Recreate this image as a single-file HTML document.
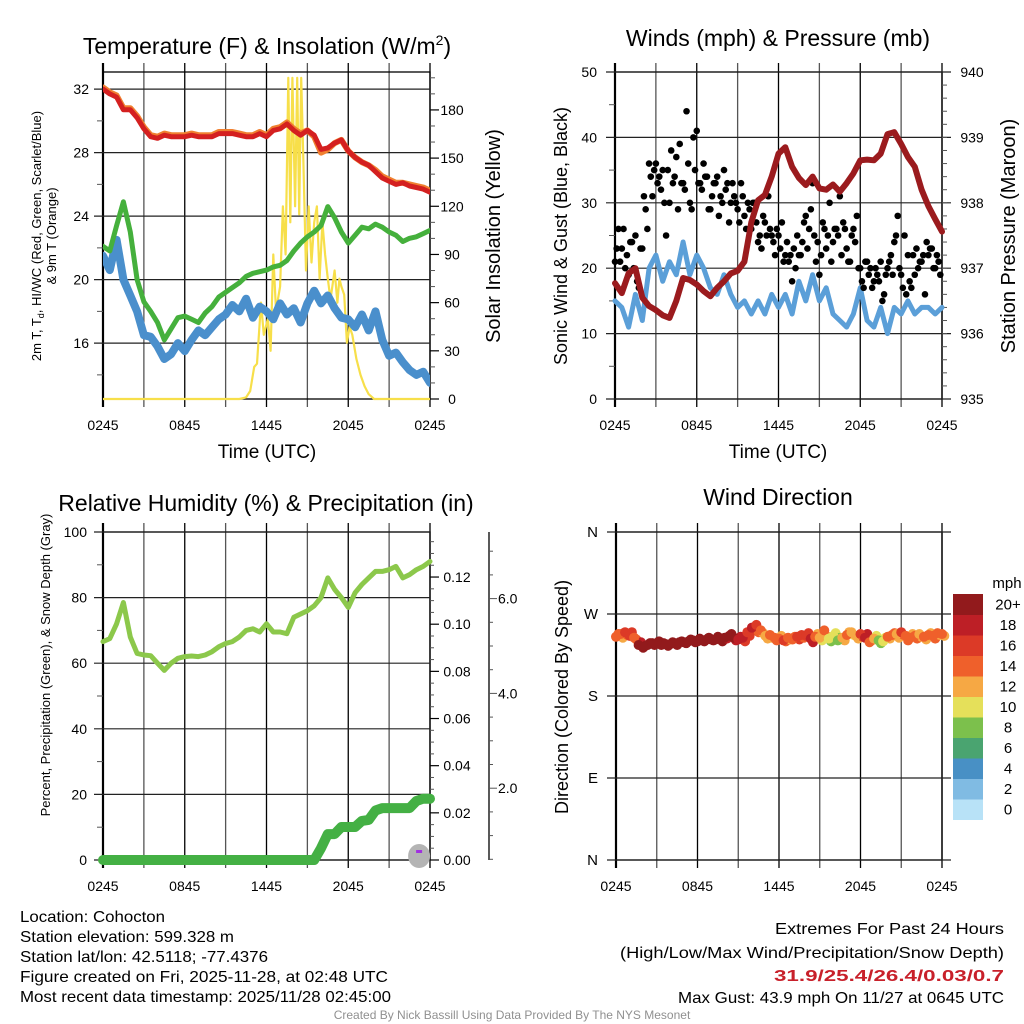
<!DOCTYPE html>
<html><head><meta charset="utf-8"><title>Cohocton Meteogram</title>
<style>
html,body{margin:0;padding:0;background:#fff;}
svg{display:block;font-family:"Liberation Sans",Arial,sans-serif;}
</style></head>
<body>
<svg id="chart" width="1024" height="1024" viewBox="0 0 1024 1024" xmlns="http://www.w3.org/2000/svg">
<rect x="0" y="0" width="1024" height="1024" fill="#fff"/>
<text x="267" y="54" font-size="23" text-anchor="middle">Temperature (F) &amp; Insolation (W/m<tspan font-size="14" dy="-9">2</tspan><tspan dy="9">)</tspan></text>
<text x="778" y="46" font-size="23" text-anchor="middle">Winds (mph) &amp; Pressure (mb)</text>
<text x="266" y="511" font-size="23" text-anchor="middle">Relative Humidity (%) &amp; Precipitation (in)</text>
<text x="778" y="505" font-size="23" text-anchor="middle">Wind Direction</text>
<text transform="translate(41,236) rotate(-90)" font-size="13" text-anchor="middle">2m T, T<tspan font-size="9" dy="3">d</tspan><tspan dy="-3">, HI/WC (Red, Green, Scarlet/Blue)</tspan></text>
<text transform="translate(56,236) rotate(-90)" font-size="13" text-anchor="middle">&amp; 9m T (Orange)</text>
<text transform="translate(500,236) rotate(-90)" font-size="20" text-anchor="middle">Solar Insolation (Yellow)</text>
<text x="267" y="458" font-size="19" text-anchor="middle">Time (UTC)</text>
<text transform="translate(567,236) rotate(-90)" font-size="18" text-anchor="middle">Sonic Wind &amp; Gust (Blue, Black)</text>
<text transform="translate(1015,236) rotate(-90)" font-size="20" text-anchor="middle">Station Pressure (Maroon)</text>
<text x="778" y="458" font-size="19" text-anchor="middle">Time (UTC)</text>
<text transform="translate(50,665) rotate(-90)" font-size="13" text-anchor="middle">Percent, Precipitation (Green), &amp; Snow Depth (Gray)</text>
<text transform="translate(568,697) rotate(-90)" font-size="18" text-anchor="middle">Direction (Colored By Speed)</text>
<g font-size="16">
<text x="20" y="922" textLength="145" lengthAdjust="spacingAndGlyphs">Location: Cohocton</text>
<text x="20" y="942" textLength="214" lengthAdjust="spacingAndGlyphs">Station elevation: 599.328 m</text>
<text x="20" y="962" textLength="248" lengthAdjust="spacingAndGlyphs">Station lat/lon: 42.5118; -77.4376</text>
<text x="20" y="982" textLength="368" lengthAdjust="spacingAndGlyphs">Figure created on Fri, 2025-11-28, at 02:48 UTC</text>
<text x="20" y="1002" textLength="371" lengthAdjust="spacingAndGlyphs">Most recent data timestamp: 2025/11/28 02:45:00</text>
</g>
<g font-size="16">
<text x="775" y="934" textLength="229" lengthAdjust="spacingAndGlyphs">Extremes For Past 24 Hours</text>
<text x="620" y="958" textLength="384" lengthAdjust="spacingAndGlyphs">(High/Low/Max Wind/Precipitation/Snow Depth)</text>
<text x="774" y="981" textLength="230" lengthAdjust="spacingAndGlyphs" fill="#c8202a" font-weight="bold">31.9/25.4/26.4/0.03/0.7</text>
<text x="678" y="1003" textLength="326" lengthAdjust="spacingAndGlyphs">Max Gust: 43.9 mph On 11/27 at 0645 UTC</text>
</g>
<text x="512" y="1019" font-size="12" fill="#909090" text-anchor="middle">Created By Nick Bassill Using Data Provided By The NYS Mesonet</text>
<g id="layer"></g>
</svg>
<script>
const hours = [0,0.5,1,1.5,2,2.5,3,3.5,4,4.5,5,5.5,6,6.5,7,7.5,8,8.5,9,9.5,10,10.5,11,11.5,12,12.5,13,13.5,14,14.5,15,15.5,16,16.5,17,17.5,18,18.5,19,19.5,20,20.5,21,21.5,22,22.5,23,23.5,24];
const timeTickHours = [0,6,12,18,24];
const timeTickLabels = ["0245","0845","1445","2045","0245"];
const tempRed = [32.0,31.7,31.5,30.7,30.7,30.2,29.5,29.0,28.9,29.1,29.0,29.0,29.0,29.1,29.0,29.0,29.0,29.2,29.2,29.2,29.1,29.0,29.0,29.2,29.0,29.4,29.5,29.8,29.4,29.1,29.4,29.1,28.2,28.3,28.6,28.8,28.1,27.7,27.4,27.2,26.8,26.4,26.2,26.0,26.1,25.9,25.8,25.7,25.5];
const temp9mOrange = [32.1,31.8,31.6,30.8,30.8,30.3,29.6,29.1,29.0,29.2,29.1,29.1,29.1,29.2,29.1,29.1,29.1,29.3,29.3,29.3,29.2,29.1,29.1,29.3,29.1,29.5,29.6,29.9,29.5,29.2,29.4,29.0,28.0,28.2,28.6,28.8,28.1,27.7,27.4,27.2,26.9,26.5,26.3,26.1,26.1,26.0,25.9,25.8,25.6];
const heatIndexGreen = [22.1,21.8,23.4,24.9,23.0,20.0,18.6,18.0,17.3,16.2,16.9,17.6,17.7,17.5,17.3,17.9,18.3,18.9,19.2,19.5,19.8,20.2,20.4,20.5,20.6,20.8,20.9,21.2,21.8,22.3,22.7,23.0,23.4,24.6,23.9,23.0,22.3,22.8,23.3,23.2,23.5,23.3,23.0,22.8,22.4,22.6,22.7,22.9,23.1];
const dewpointBlue = [21.5,20.6,22.5,20.0,19.0,18.0,16.5,16.4,15.8,15.0,15.3,16.0,15.5,16.2,16.8,16.5,17.0,17.5,17.8,18.4,18.0,18.8,17.6,18.3,18.0,17.5,18.5,17.8,18.2,17.3,18.5,19.3,18.5,19.0,18.2,17.6,17.5,17.0,17.8,16.8,18.0,16.2,15.2,15.4,14.8,14.3,14.0,14.2,13.5];
const tempTicks = [16,20,24,28,32];
const solarTicks = [0,30,60,90,120,150,180];
const solarHours = [0,10,10.5,10.8,11.1,11.3,11.6,11.8,12.1,12.3,12.5,12.7,13.0,13.2,13.4,13.6,13.75,13.9,14.1,14.25,14.4,14.55,14.7,14.9,15.1,15.3,15.5,15.7,15.9,16.1,16.3,16.5,16.7,17.0,17.2,17.35,17.5,17.7,17.9,18.1,18.3,18.6,18.9,19.2,19.5,19.9,24];
const solarValues = [0,0,1,5,20,22,60,40,50,30,90,55,70,120,90,200,110,200,120,200,115,200,150,80,120,85,110,120,75,110,90,75,62,80,60,75,70,65,35,45,40,25,15,8,3,0,0];
const windSpeed = [15,14,11,16,12,20,22,18,21,19,24,19,22,20,17,16,19,16,14,15,13,15,13,16,14,16,13,18,15,19,15,17,13,12,11,13,17,12,11,14,10,14,13,15,13,14,14,13,14];
const pressure = [936.77,936.62,936.92,937.0,936.55,936.42,936.36,936.28,936.24,936.5,936.85,936.82,936.75,936.65,936.57,936.7,936.8,936.92,936.96,937.1,937.7,938.04,938.12,938.4,938.75,938.85,938.55,938.38,938.27,938.4,938.22,938.2,938.28,938.17,938.3,938.45,938.65,938.66,938.65,938.75,939.05,939.08,938.9,938.7,938.55,938.2,937.95,937.75,937.56];
const gusts = [21,26,23,20,19,24,25,17,23,29,36,31,36,34,35,25,30,33,37,39,33,44,30,40,41,33,36,34,29,33,34,31,35,33,30,31,29,33,28,30,26,30,24,23,27,31,25,22,25,27,22,21,18,20,22,24,28,26,33,21,19,27,23,30,24,26,31,27,23,21,26,28,20,17,21,20,18,19,21,16,20,22,24,28,19,25,22,17,19,20,21,16,22,23,20,21];
const gusts2 = [23,21,26,22,24,20,18,23,31,26,34,35,33,32,30,35,38,34,29,33,32,36,29,35,33,32,34,29,31,33,28,30,32,27,33,30,27,31,26,29,30,27,25,28,25,26,24,26,23,21,24,22,23,25,22,27,23,29,25,24,22,26,25,21,26,25,22,26,21,25,24,20,18,21,19,17,20,18,15,19,21,19,25,20,17,16,18,22,23,21,22,24,23,20,22,19];
const windTicks = [0,10,20,30,40,50];
const pressureTicks = [935,936,937,938,939,940];
const relHumidity = [66.6,67.5,72,78.5,68,63,62.5,62.3,60,57.8,60,61.5,62,62.2,62,62.5,63.5,65,66,66.6,68,70,70.5,69.5,72,69.5,69.5,69,74,75,76,77.5,80,86,82.5,80,77,81.5,84,86,88,88,88.5,89.5,86,87,88.5,89.5,91];
const precip = [0,0,0,0,0,0,0,0,0,0,0,0,0,0,0,0,0,0,0,0,0,0,0,0,0,0,0,0,0,0,0,0,0.005,0.011,0.011,0.014,0.014,0.014,0.0166,0.017,0.021,0.022,0.022,0.022,0.022,0.022,0.025,0.026,0.026];
const rhTicks = [0,20,40,60,80,100];
const precipTicks = [0,0.02,0.04,0.06,0.08,0.10,0.12];
const precipTickLabels = ["0.00","0.02","0.04","0.06","0.08","0.10","0.12"];
const snowTicks = [2,4,6];
const snowTickLabels = ["2.0","4.0","6.0"];
const windDir = [245,248,250,246,244,236,233,236,238,238,236,237,237,238,239,239,240,241,240,241,242,242,242,243,244,246,244,242,244,250,255,258,252,246,247,244,243,241,244,242,245,247,246,243,245,244,252,243,246,241,244,247,250,246,248,244,239,243,241,240,245,247,248,250,246,244,246,248,245,247,246,249,248];
const windDir2 = [248,244,247,250,242,239,235,238,236,240,238,235,239,236,240,238,242,239,243,240,244,241,245,240,243,248,241,245,240,246,252,250,249,243,244,241,246,240,242,245,242,244,249,239,248,241,246,240,249,244,241,250,247,243,245,248,241,246,238,244,243,249,244,247,241,248,243,245,242,249,243,247,246];
const windDirSpeed = [15,14,16,17,15,20,21,22,21,21,22,21,21,22,21,21,21,22,21,21,22,21,21,21,20,21,20,19,18,17,18,16,14,13,14,15,14,16,14,15,17,16,17,19,14,12,14,10,11,9,13,14,12,13,17,19,14,12,9,11,14,15,13,16,15,14,15,13,14,14,15,14,14];
const dirTicks = [0,90,180,270,360];
const dirTickLabels = ["N","E","S","W","N"];
const legendLevels = ["0","2","4","6","8","10","12","14","16","18","20+"];
const legendColors = ["#b8e2f7","#80bbe3","#4890c5","#4aa470","#7cc04c","#e5e05a","#f6a844","#ef602b","#dc3a27","#bd1f26","#921a1c"];

const NS = "http://www.w3.org/2000/svg";
const layer = document.getElementById("layer");
function mk(tag, attrs, parent){
  const el = document.createElementNS(NS, tag);
  for (const k in attrs) el.setAttribute(k, attrs[k]);
  (parent||layer).appendChild(el);
  return el;
}
function txt(x,y,s,size,anchor,parent){
  const el = mk("text",{x:x,y:y,"font-size":size,"text-anchor":anchor},parent);
  el.textContent = s;
  return el;
}
function pathFrom(xs, ys){
  let d = "";
  for (let i=0;i<xs.length;i++) d += (i?"L":"M")+xs[i].toFixed(1)+","+ys[i].toFixed(1);
  return d;
}
function speedColor(s){
  let idx = Math.floor(s/2);
  if (idx>10) idx=10;
  if (idx<0) idx=0;
  return legendColors[idx];
}
function frame(x0,x1,y0,y1,name){
  const g = mk("g",{});
  
  
  for (let h=0; h<=24; h+=3){
    const x = x0 + h*(x1-x0)/24;
    const ln = mk("line",{x1:x,x2:x,y1:y0-9,y2:y1+8,stroke:(h%6===0)?"#000":"#555","stroke-width":1.3},g);
    
    
  }
  const fr = mk("rect",{x:x0,y:y0,width:x1-x0,height:y1-y0,fill:"none",stroke:"#000","stroke-width":1.3},g);
  
  
  const sp = mk("line",{x1:x0,x2:x0,y1:y0-9,y2:y1+8,stroke:"#000","stroke-width":2.2},g);
  
  
  for (let i=0;i<timeTickHours.length;i++){
    const x = x0 + timeTickHours[i]*(x1-x0)/24;
    const t = txt(x, y1+31, timeTickLabels[i], 14, "middle", g);
    
    
  }
  return g;
}
function hGrid(x0,x1,y,g,extRight){
  const ln = mk("line",{x1:x0-9,x2:x1+(extRight||0),y1:y,y2:y,stroke:"#222","stroke-width":1.2},g);
  
  
}
function leftLabel(x,y,s,g,size){
  const t = txt(x,y+5,s,size||14,"end",g);
  
  
}
function minorTick(xa,xb,y,g){
  const ln = mk("line",{x1:xa,x2:xb,y1:y,y2:y,stroke:"#555","stroke-width":1},g);
  
  
}
function series(d, color, width, name, g){
  const p = mk("path",{d:d,fill:"none",stroke:color,"stroke-width":width,"stroke-linejoin":"round","stroke-linecap":"round"},g);
  
  
  return p;
}

(function(){
  const x0=103,x1=430,y0=72,y1=399;
  const X = h => x0 + h*(x1-x0)/24;
  const YL = v => y1 - (v-12.48)*15.875;
  const YR = w => y1 - w*1.606;
  const g = frame(x0,x1,y0,y1,'temperature-panel');
  tempTicks.forEach(v=>{ hGrid(x0,x1,YL(v),g); leftLabel(89,YL(v),String(v),g); });
  for (let v=14; v<=32; v+=2) if (v%4) minorTick(x0-6,x0,YL(v),g);
  solarTicks.forEach(w=>{
    const ln = mk("line",{x1:x1,x2:x1+9,y1:YR(w),y2:YR(w),stroke:"#000","stroke-width":1.2},g);
    
    
    const t = txt(452,YR(w)+5,String(w),14,"middle",g);
    
    
  });
  for (let w=10; w<=200; w+=10) if (w%30) minorTick(x1,x1+5,YR(w),g);
  const clip = mk("clipPath",{id:"c1"});
  mk("rect",{x:x0,y:y0,width:x1-x0,height:y1-y0+2},clip);
  const s = mk("g",{"clip-path":"url(#c1)"});
  
  
  series(pathFrom(solarHours.map(X), solarValues.map(YR)), "#f7df4a", 2.2, "solar-insolation-line", s);
  series(pathFrom(hours.map(X), dewpointBlue.map(YL)), "#4a8fcc", 8, "dewpoint-line", s);
  series(pathFrom(hours.map(X), heatIndexGreen.map(YL)), "#45b03c", 5, "wind-chill-line", s);
  series(pathFrom(hours.map(X), temp9mOrange.map(YL)), "#f08030", 6, "temp-9m-line", s);
  series(pathFrom(hours.map(X), tempRed.map(YL)), "#d42020", 5, "temp-2m-line", s);
})();

(function(){
  const x0=615,x1=942,y0=72,y1=399;
  const X = h => x0 + h*(x1-x0)/24;
  const Y = v => y1 - v*6.54;
  const YP = p => y1 - (p-935)*65.4;
  const g = frame(x0,x1,y0,y1,'winds-panel');
  windTicks.forEach(v=>{ hGrid(x0,x1,Y(v),g,9); leftLabel(597,Y(v),String(v),g); });
  for (let v=5; v<50; v+=10) minorTick(x0-6,x0,Y(v),g);
  pressureTicks.forEach(p=>{
    const t = txt(972,YP(p)+5,String(p),14,"middle",g);
    
    
  });
  for (let p=935.2; p<940; p+=0.2) minorTick(x1,x1+5,YP(p),g);
  const s = mk("g",{});
  
  
  series(pathFrom(hours.map(X), windSpeed.map(Y)), "#5b9fd8", 5, "sonic-wind-line", s);
  gusts.forEach((v,i)=>{
    const c = mk("circle",{cx:X(i*0.25),cy:Y(v),r:3.3,fill:"#000"},s);
    
    
  });
  gusts2.forEach((v,i)=>{
    const c = mk("circle",{cx:X(i*0.25+0.125),cy:Y(v),r:3.3,fill:"#000"},s);
    
    
  });
  series(pathFrom(hours.map(X), pressure.map(YP)), "#9b1b1e", 6, "pressure-line", s);
})();

(function(){
  const x0=103,x1=430,y0=532,y1=860;
  const X = h => x0 + h*(x1-x0)/24;
  const Y = v => y1 - v*3.28;
  const YPr = v => y1 - v*2358;
  const YS = v => 883 - v*47.4;
  const g = frame(x0,x1,y0,y1,'humidity-panel');
  rhTicks.forEach(v=>{ hGrid(x0,x1,Y(v),g); leftLabel(87,Y(v),String(v),g); });
  for (let v=10; v<100; v+=20) minorTick(x0-6,x0,Y(v),g);
  precipTicks.forEach((v,i)=>{
    const ln = mk("line",{x1:x1,x2:x1+9,y1:YPr(v),y2:YPr(v),stroke:"#000","stroke-width":1.2},g);
    
    
    const t = txt(457,YPr(v)+5,precipTickLabels[i],14,"middle",g);
    
    
  });
  for (let v=0.005; v<0.14; v+=0.005) if (Math.abs(v/0.02-Math.round(v/0.02))>0.01) minorTick(x1,x1+4,YPr(v),g);
  const sa = mk("line",{x1:489,x2:489,y1:y0,y2:y1,stroke:"#000","stroke-width":1.3},g);
  
  
  for (let v=0.5; v<7.4; v+=0.5){
    const major = snowTicks.indexOf(Math.round(v*10)/10) >= 0;
    minorTick(489,489+(major?8:4),YS(v),g);
  }
  snowTicks.forEach((v,i)=>{
    const t = txt(498,YS(v)+5,snowTickLabels[i],14,"start",g);
    
    
  });
  const s = mk("g",{});
  
  
  series(pathFrom(hours.map(X), relHumidity.map(Y)), "#8cc84b", 5, "relative-humidity-line", s);
  series(pathFrom(hours.map(X), precip.map(YPr)), "#44b044", 10, "precipitation-line", s);
  const sn = mk("ellipse",{cx:X(23.2),cy:y1-4,rx:11,ry:12,fill:"#b4b4b4"},s);
  
  
  const pm = mk("rect",{x:X(23.2)-3,y:y1-10,width:6,height:3,fill:"#a030e0"},s);
  
  
})();

(function(){
  const x0=616,x1=942,y0=532,y1=860;
  const X = h => x0 + h*(x1-x0)/24;
  const Y = d => y1 - d/360*(y1-y0);
  const g = frame(x0,x1,y0,y1,'direction-panel');
  dirTicks.forEach((d,i)=>{ hGrid(x0,x1,Y(d),g,9); leftLabel(598,Y(d),dirTickLabels[i],g,15); });
  const s = mk("g",{});
  
  
  windDir2.forEach((d,i)=>{
    const c = mk("circle",{cx:X(i/3+0.17),cy:Y(d),r:5,fill:speedColor(windDirSpeed[i]-1)},s);
    
    
  });
  windDir.forEach((d,i)=>{
    const c = mk("circle",{cx:X(i/3),cy:Y(d),r:5,fill:speedColor(windDirSpeed[i])},s);
    
    
  });
  const lg = mk("g",{});
  
  
  const ttl = txt(1007,588,"mph",15,"middle",lg);
  
  
  const bh = 20.5;
  legendLevels.forEach((lab,i)=>{
    const yy = 594 + (10-i)*bh;
    const r = mk("rect",{x:953,y:yy,width:30,height:bh+0.5,fill:legendColors[i]},lg);
    
    
    const t = txt(1008,yy+bh/2+5,lab,15,"middle",lg);
    
    
  });
})();
</script>
</body></html>
